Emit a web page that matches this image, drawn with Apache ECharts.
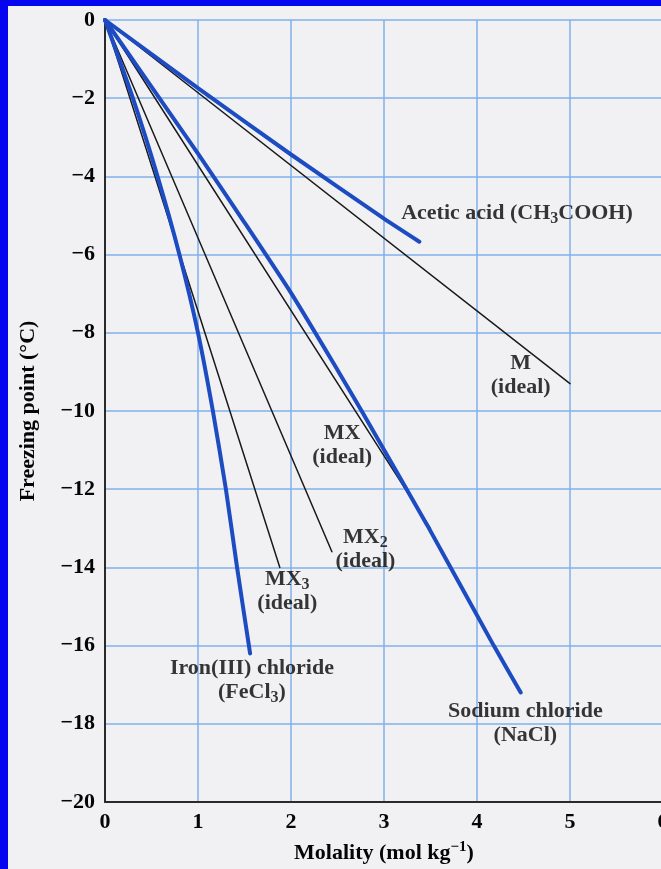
<!DOCTYPE html>
<html><head><meta charset="utf-8">
<script src="https://cdn.jsdelivr.net/npm/echarts@6/dist/echarts.min.js"></script>
<style>html,body{margin:0;padding:0;background:#f1f1f4;}#c{width:661px;height:869px;}</style>
</head><body><div id="c"></div>
<script>
// ---- data ----
const xTicks = [0, 1, 2, 3, 4, 5, 6];
const yTicks = [0, -2, -4, -6, -8, -10, -12, -14, -16, -18, -20];
const aceticX = [0, 1, 2, 3, 3.38];
const aceticY = [0, -1.74, -3.44, -5.08, -5.67];
const mIdealX = [0, 5];
const mIdealY = [0, -9.3];
const mxIdealX = [0, 3.5];
const mxIdealY = [0, -13.0];
const mx2IdealX = [0, 2.44];
const mx2IdealY = [0, -13.6];
const mx3IdealX = [0, 1.88];
const mx3IdealY = [0, -14.0];
const naclX = [0, 1, 1.5, 2, 2.5, 2.76, 3.46, 4.18, 4.47];
const naclY = [0, -3.42, -5.18, -6.98, -8.95, -10, -12.9, -16, -17.2];
const fecl3X = [0, 0.3, 0.565, 0.8, 1.0, 1.16, 1.3, 1.42, 1.56];
const fecl3Y = [0, -2, -4, -6, -8, -10, -12, -14, -16.2];
// label anchor positions (data units)
const labelPos = {
  acetic: [4.43, -4.94],
  m: [4.47, -9.08],
  mx: [2.55, -10.88],
  mx2: [2.80, -13.55],
  mx3: [1.96, -14.6],
  fecl3: [1.58, -16.9],
  nacl: [4.52, -18.0]
};

const pairs = (xs, ys) => xs.map((x, i) => [x, ys[i]]);
const FONT = '"Liberation Serif", "Times New Roman", serif';
const BLUE = '#1c4bc2';
const BLACK = '#1a1a1a';
const TXT = '#050505';
const rich = {
  a: {fontFamily: FONT, fontWeight: 'bold', fontSize: 22, color: TXT, lineHeight: 24},
  s: {fontFamily: FONT, fontWeight: 'bold', fontSize: 16, color: TXT, padding: [11, 0, 0, 0], lineHeight: 15}
};
function lab(name, text) {
  return {
    type: 'scatter', name: 'lbl_' + name, data: [labelPos[name]], symbolSize: 0,
    silent: true, z: 5,
    label: {show: true, position: 'inside', formatter: text, rich: rich, align: 'center'}
  };
}
function line(name, xs, ys, color, width, smooth) {
  return {
    type: 'line', name: name, data: pairs(xs, ys), showSymbol: false, symbol: 'none',
    smooth: smooth, silent: true,
    lineStyle: {color: color, width: width, cap: 'round'}
  };
}

const chart = echarts.init(document.getElementById('c'), null, {renderer: 'canvas'});
chart.setOption({
  backgroundColor: '#f1f1f4',
  animation: false,
  grid: {left: 105, top: 20, width: 558, height: 782, containLabel: false, outerBoundsMode: 'none'},
  graphic: [
    {type: 'rect', left: 0, top: 0, shape: {width: 8, height: 869}, style: {fill: '#0505f0'}, z: 100},
    {type: 'rect', left: 0, top: 0, shape: {width: 661, height: 6}, style: {fill: '#0505f0'}, z: 100}
  ],
  xAxis: {
    type: 'value', min: 0, max: 6, interval: 1,
    name: '{n|Molality (mol kg}{p|\u22121}{n|)}', nameLocation: 'middle', nameGap: 39,
    nameTextStyle: {rich: {
      n: {fontFamily: FONT, fontWeight: 'bold', fontSize: 22, color: TXT, lineHeight: 24},
      p: {fontFamily: FONT, fontWeight: 'bold', fontSize: 15, color: TXT, padding: [0, 0, 12, 0], lineHeight: 14}
    }},
    axisLine: {show: true, onZero: false, lineStyle: {color: '#2a2a2a', width: 2}},
    axisTick: {show: false},
    axisLabel: {fontFamily: FONT, fontWeight: 'bold', fontSize: 22, color: TXT, margin: 9,
      showMaxLabel: true, formatter: v => String(xTicks[Math.round(v)])},
    splitLine: {show: true, lineStyle: {color: '#7fb0ea', width: 1.5}}
  },
  yAxis: {
    type: 'value', min: -20, max: 0, interval: 2,
    name: 'Freezing point (\u00B0C)', nameLocation: 'middle', nameGap: 66, nameRotate: 90,
    nameTextStyle: {fontFamily: FONT, fontWeight: 'bold', fontSize: 22, color: TXT},
    axisLine: {show: true, onZero: false, lineStyle: {color: '#2a2a2a', width: 2}},
    axisTick: {show: false},
    axisLabel: {fontFamily: FONT, fontWeight: 'bold', fontSize: 22, color: TXT, margin: 10,
      formatter: v => { const t = yTicks.find(k => Math.abs(k - v) < 1e-6); return t < 0 ? '\u2212' + Math.abs(t) : String(t); }},
    splitLine: {show: true, lineStyle: {color: '#7fb0ea', width: 1.5}}
  },
  series: [
    line('M (ideal)', mIdealX, mIdealY, BLACK, 1.5, false),
    line('MX (ideal)', mxIdealX, mxIdealY, BLACK, 1.5, false),
    line('MX2 (ideal)', mx2IdealX, mx2IdealY, BLACK, 1.5, false),
    line('MX3 (ideal)', mx3IdealX, mx3IdealY, BLACK, 1.5, false),
    line('Acetic acid', aceticX, aceticY, BLUE, 4, 0.2),
    line('Sodium chloride', naclX, naclY, BLUE, 4, 0.2),
    line('Iron(III) chloride', fecl3X, fecl3Y, BLUE, 4, 0.2),
    lab('acetic', '{a|Acetic acid (CH}{s|3}{a|COOH)}'),
    lab('m', '{a|M}\n{a|(ideal)}'),
    lab('mx', '{a|MX}\n{a|(ideal)}'),
    lab('mx2', '{a|MX}{s|2}\n{a|(ideal)}'),
    lab('mx3', '{a|MX}{s|3}\n{a|(ideal)}'),
    lab('fecl3', '{a|Iron(III) chloride}\n{a|(FeCl}{s|3}{a|)}'),
    lab('nacl', '{a|Sodium chloride}\n{a|(NaCl)}')
  ]
});
</script></body></html>
